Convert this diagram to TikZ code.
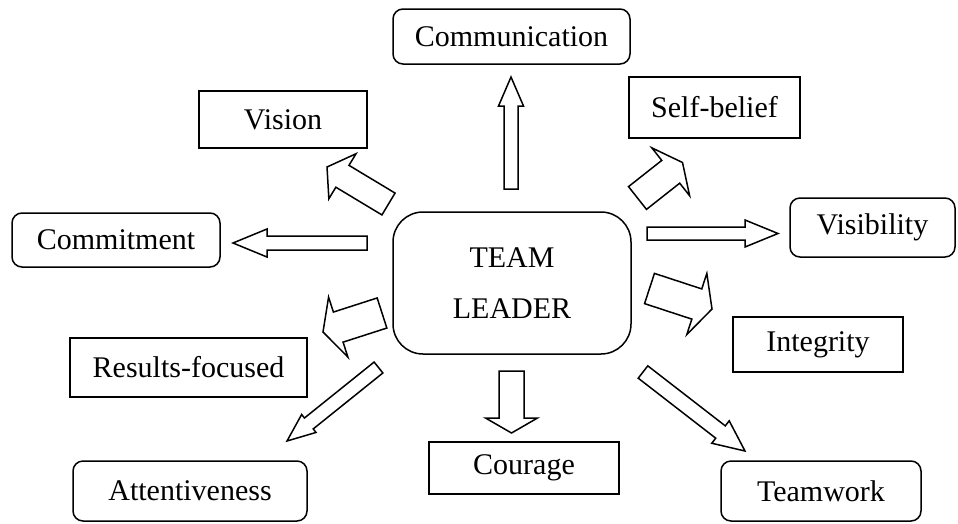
\documentclass[tikz,border=0pt]{standalone}
\usepackage{fontspec}
\setmainfont{Liberation Serif}
\usetikzlibrary{calc}

\tikzset{
  box/.style={draw, line width=1.5pt, fill=white, inner sep=0pt, align=center},
  rbox/.style={box, rounded corners=10pt},
  blk/.style={draw, line width=1.5pt, fill=white, line join=miter}
}

% block arrow from #1 to #2: half shaft #3, half head #4, head length #5
\newcommand{\blockarrow}[5]{%
  \draw[blk] ($(#1)!#3pt!90:(#2)$)
    -- ($(#2)!#5pt!(#1)!#3pt!-90:(#1)$)
    -- ($(#2)!#5pt!(#1)!#4pt!-90:(#1)$)
    -- (#2)
    -- ($(#2)!#5pt!(#1)!#4pt!90:(#1)$)
    -- ($(#2)!#5pt!(#1)!#3pt!90:(#1)$)
    -- ($(#1)!#3pt!-90:(#2)$) -- cycle;}

\begin{document}
\begin{tikzpicture}[x=1pt, y=-1pt, font=\fontsize{30}{36}\selectfont]
\useasboundingbox (0,0) rectangle (958,523);

\node[rbox, rounded corners=30pt, minimum width=238pt, minimum height=142pt,
  font=\fontsize{30}{51}\selectfont] (lead) at (512,283) {TEAM\\LEADER};

\node[rbox, minimum width=237pt, minimum height=55pt] (comm)  at (511.5,36.5) {Communication};
\node[box,  minimum width=171pt, minimum height=61pt] (self)  at (714.5,107.5) {Self-belief};
\node[box,  minimum width=168pt, minimum height=57pt] (vis)   at (283,119.5) {Vision};
\node[rbox, minimum width=208pt, minimum height=54pt] (comt)  at (116,240) {Commitment};
\node[rbox, minimum width=165pt, minimum height=59pt] (visb)  at (872.5,227.5) {Visibility};
\node[box,  minimum width=237pt, minimum height=59pt] (res)   at (188.5,367.5) {Results-focused};
\node[box,  minimum width=170pt, minimum height=55pt] (integ) at (818,344.5) {Integrity};
\node[rbox, minimum width=234pt, minimum height=60pt] (att)   at (190,491) {Attentiveness};
\node[box,  minimum width=190pt, minimum height=52pt] (cour)  at (524,468) {Courage};
\node[rbox, minimum width=200pt, minimum height=60pt] (team)  at (821,491) {Teamwork};

% arrow ends (tail, head)
\coordinate (commT)  at (511,189);   \coordinate (commH)  at (511,77);
\coordinate (visT)   at (388.5,204); \coordinate (visH)   at (327,167);
\coordinate (comtT)  at (367,243);   \coordinate (comtH)  at (233,243);
\coordinate (resT)   at (382,313);   \coordinate (resH)   at (323,332);
\coordinate (selfT)  at (637.5,198); \coordinate (selfH)  at (682.5,162.5);
\coordinate (visbT)  at (647,233.5); \coordinate (visbH)  at (778,233.5);
\coordinate (integT) at (649.5,288.5); \coordinate (integH) at (712,309);
\coordinate (courT)  at (511.5,371); \coordinate (courH)  at (511.5,433);
\coordinate (attT)   at (378.5,367.5); \coordinate (attH)  at (287,441);
\coordinate (teamT)  at (643,372);   \coordinate (teamH)  at (745,451);

\blockarrow{commT}{commH}{7}{12.5}{29}
\blockarrow{visT}{visH}{12.75}{26.3}{18}
\blockarrow{comtT}{comtH}{7}{14}{34}
\blockarrow{resT}{resH}{15.8}{31.5}{16}
\blockarrow{selfT}{selfH}{14.5}{30.5}{15}
\blockarrow{visbT}{visbH}{6.5}{13.5}{33}
\blockarrow{integT}{integH}{15.9}{32.2}{16}
\blockarrow{courT}{courH}{12.5}{26}{15}
\blockarrow{attT}{attH}{7}{11.5}{28}
\blockarrow{teamT}{teamH}{7.8}{14.2}{31}

\end{tikzpicture}
\end{document}
